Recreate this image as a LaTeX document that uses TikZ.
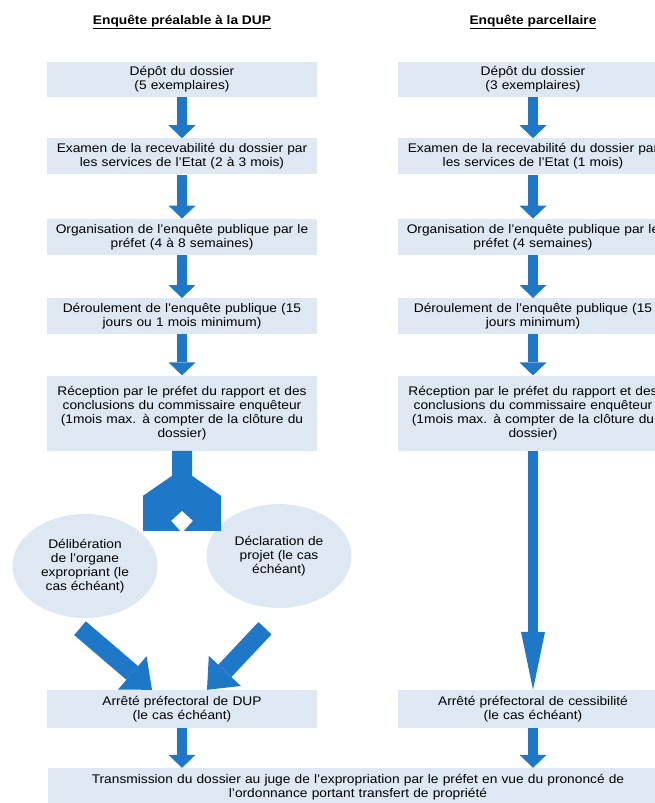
\documentclass[tikz,border=0pt]{standalone}
\usepackage{fontspec}
\setmainfont{Liberation Sans}[FakeStretch=1.1]
\usetikzlibrary{positioning,shapes.geometric,arrows.meta}

\definecolor{boxblue}{RGB}{221,232,242}
\definecolor{flowblue}{RGB}{31,119,200}

\tikzset{
  etape/.style={rectangle, fill=boxblue, text width=260pt, inner xsep=5pt, inner ysep=3pt,
    minimum height=36pt, align=center, font=\fontsize{12.5}{14}\selectfont},
  bulle/.style={ellipse, fill=boxblue, minimum width=145pt, minimum height=104pt, inner sep=0pt,
    align=center, font=\fontsize{12.5}{14}\selectfont},
  titre/.style={font=\fontsize{12.5}{14}\selectfont\bfseries},
  fleche/.style={draw=flowblue, line width=10pt, -{Triangle[width=27pt,length=13pt,line width=0pt]}},
  grossefleche/.style={draw=flowblue, line width=18pt, -{Triangle[width=44pt,length=26pt,line width=0pt]}},
  longuefleche/.style={draw=flowblue, line width=10pt, -{Triangle[width=24pt,length=58pt,line width=0pt]}},
}

\begin{document}
\begin{tikzpicture}[x=1pt,y=-1pt]
\useasboundingbox (0,0) rectangle (654,803);

% titres des deux colonnes
\node[titre] (t1) at (182,22) {\underline{Enquête préalable à la DUP}};
\node[titre] (t2) at (533,22) {\underline{Enquête parcellaire}};

% colonne de gauche
\node[etape, minimum height=35pt] (dep1) at (182,79.5) {Dépôt du dossier\\(5 exemplaires)};
\node[etape, below=41pt of dep1] (exa1) {Examen de la recevabilité du dossier par\\les services de l'Etat (2 à 3 mois)};
\node[etape, below=44pt of exa1] (org1) {Organisation de l'enquête publique par le\\préfet (4 à 8 semaines)};
\node[etape, below=43pt of org1] (der1) {Déroulement de l'enquête publique (15\\jours ou 1 mois minimum)};
\node[etape, minimum height=75pt, below=41pt of der1] (rec1) {Réception par le préfet du rapport et des\\conclusions du commissaire enquêteur\\(1mois max. à compter de la clôture du\\dossier)};

\node[bulle] (delib) at (85,566) {Délibération\\de l'organe\\expropriant (le\\cas échéant)};
\node[bulle] (decl) at (279,556) {Déclaration de\\projet (le cas\\échéant)};

\node[etape, minimum height=38pt] (arr1) at (182,709) {Arrêté préfectoral de DUP\\(le cas échéant)};

% colonne de droite
\node[etape, minimum height=35pt] (dep2) at (533,79.5) {Dépôt du dossier\\(3 exemplaires)};
\node[etape] (exa2) at (exa1 -| dep2) {Examen de la recevabilité du dossier par\\les services de l'Etat (1 mois)};
\node[etape] (org2) at (org1 -| dep2) {Organisation de l'enquête publique par le\\préfet (4 semaines)};
\node[etape] (der2) at (der1 -| dep2) {Déroulement de l'enquête publique (15\\jours minimum)};
\node[etape, minimum height=75pt] (rec2) at (rec1 -| dep2) {Réception par le préfet du rapport et des\\conclusions du commissaire enquêteur\\(1mois max. à compter de la clôture du\\dossier)};
\node[etape, minimum height=38pt] (arr2) at (arr1 -| dep2) {Arrêté préfectoral de cessibilité\\(le cas échéant)};

\node[etape, text width=610pt, minimum height=38pt] (trans) at (358,787) {Transmission du dossier au juge de l'expropriation par le préfet en vue du prononcé de\\l'ordonnance portant transfert de propriété};

% fleches
\foreach \a/\b in {dep1/exa1, exa1/org1, org1/der1, der1/rec1, dep2/exa2, exa2/org2, org2/der2, der2/rec2}
  \draw[fleche] (\a) -- (\b);
\draw[fleche] (arr1) -- (arr1 |- trans.north);
\draw[fleche] (arr2) -- (arr2 |- trans.north);
\draw[longuefleche] (rec2) -- (arr2);

% fleche double sous la reception
\fill[flowblue] ([xshift=-10pt]rec1.south) -- ++(0,25) -- ++(-29,20) -- ++(0,35) -- ++(37,0)
  -- ++(-9,-10) -- ++(11,-10) -- ++(11,10) -- ++(-9,10) -- ++(37,0)
  -- ++(0,-35) -- ++(-29,-20) -- ++(0,-25) -- cycle;

\draw[grossefleche] ([shift={(-5,10)}]delib.south) -- ([xshift=-30pt]arr1.north);
\draw[grossefleche] ([shift={(-14,20)}]decl.south) -- ([xshift=25pt]arr1.north);
\end{tikzpicture}
\end{document}
